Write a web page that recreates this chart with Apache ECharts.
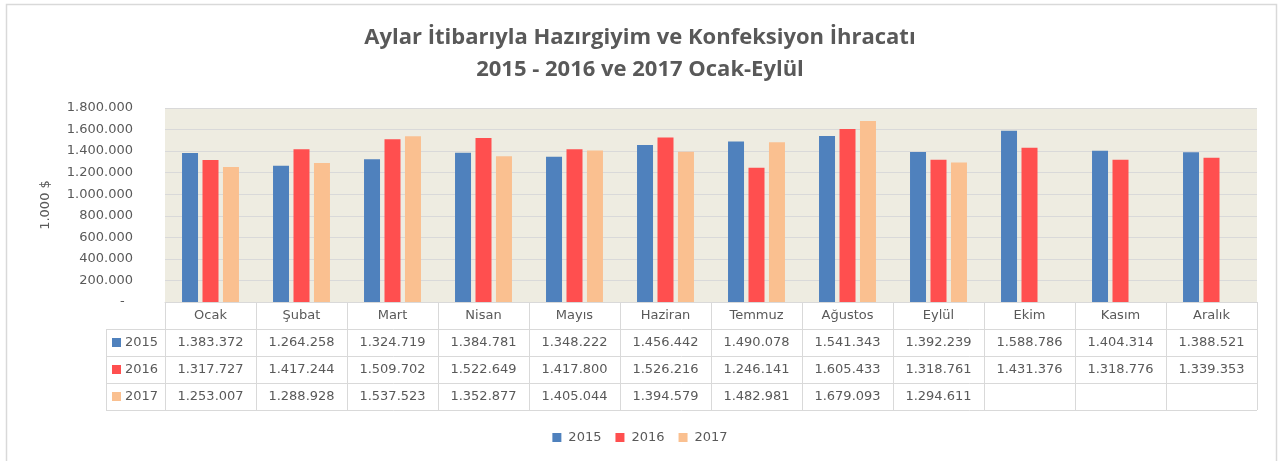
<!DOCTYPE html>
<html>
<head>
<meta charset="utf-8">
<script src="https://cdn.jsdelivr.net/npm/echarts@6/dist/echarts.min.js"></script>
<style>
  html, body { margin: 0; padding: 0; background: #fff; }
  #chart { width: 1280px; height: 461px; }
</style>
</head>
<body>
<div id="chart"></div>
<script>
  // aylar ve yillik ihracat degerleri (1.000 $)
  var months = ['Ocak', 'Şubat', 'Mart', 'Nisan', 'Mayıs', 'Haziran', 'Temmuz', 'Ağustos', 'Eylül', 'Ekim', 'Kasım', 'Aralık'];
  var years = ['2015', '2016', '2017'];
  var data2015 = [1383372, 1264258, 1324719, 1384781, 1348222, 1456442, 1490078, 1541343, 1392239, 1588786, 1404314, 1388521];
  var data2016 = [1317727, 1417244, 1509702, 1522649, 1417800, 1526216, 1246141, 1605433, 1318761, 1431376, 1318776, 1339353];
  var data2017 = [1253007, 1288928, 1537523, 1352877, 1405044, 1394579, 1482981, 1679093, 1294611, null, null, null];
  var yTicks = [0, 200000, 400000, 600000, 800000, 1000000, 1200000, 1400000, 1600000, 1800000];

  var colors = ['#4F81BD', '#FF4F4F', '#FAC090'];
  var textColor = '#595959';
  var lineColor = '#D9D9D9';
  var font = 'DejaVu Sans';

  // grafik alani ve tablo olculeri
  var gridLeft = 165, gridRight = 1257, gridTop = 108, gridBottom = 302;
  var rowH = 27, tableLeft = 106;

  function fmt(v) {
    if (v === null || v === undefined) return '';
    return String(v).replace(/\B(?=(\d{3})+(?!\d))/g, '.');
  }

  var allSeries = [data2015, data2016, data2017];

  var graphics = [];
  // tablo yatay cizgileri
  for (var r = 1; r <= 4; r++) {
    var y = gridBottom + r * rowH + 0.5;
    graphics.push({
      type: 'line', silent: true,
      shape: { x1: tableLeft, y1: y, x2: gridRight, y2: y },
      style: { stroke: lineColor, lineWidth: 1 }
    });
  }
  graphics.push({
    type: 'line', silent: true,
    shape: { x1: tableLeft + 0.5, y1: gridBottom + rowH, x2: tableLeft + 0.5, y2: gridBottom + 4 * rowH },
    style: { stroke: lineColor, lineWidth: 1 }
  });
  // sol sutun: renk kutusu + yil
  years.forEach(function (yr, i) {
    var cy = gridBottom + (i + 1) * rowH + rowH / 2;
    graphics.push({
      type: 'rect', silent: true,
      shape: { x: 112, y: cy - 4.5, width: 9, height: 9 },
      style: { fill: colors[i] }
    });
    graphics.push({
      type: 'text', silent: true,
      x: 125, y: cy,
      style: { text: yr, fill: textColor, font: '13px "' + font + '"', verticalAlign: 'middle' }
    });
  });

  var option = {
    animation: false,
    backgroundColor: '#ffffff',
    title: {
      text: 'Aylar İtibarıyla Hazırgiyim ve Konfeksiyon İhracatı\n2015 - 2016 ve 2017 Ocak-Eylül',
      left: 'center',
      top: 17,
      textStyle: {
        fontFamily: 'Open Sans',
        fontWeight: 'bold',
        fontSize: 22,
        lineHeight: 32,
        color: textColor
      }
    },
    legend: {
      data: years,
      bottom: 12,
      left: 'center',
      icon: 'rect',
      itemWidth: 9,
      itemHeight: 9,
      itemGap: 14,
      textStyle: { color: textColor, fontFamily: font, fontSize: 13, padding: [0, 0, 0, 2] }
    },
    grid: {
      left: gridLeft,
      right: 1280 - gridRight,
      top: gridTop,
      bottom: 461 - gridBottom,
      show: true,
      backgroundColor: '#EEECE1',
      borderWidth: 0,
      outerBoundsMode: 'none'
    },
    xAxis: {
      type: 'category',
      data: months,
      axisLine: { show: true, lineStyle: { color: lineColor } },
      axisTick: { show: true, interval: 0, length: rowH * 4, lineStyle: { color: lineColor } },
      axisLabel: {
        interval: 0,
        margin: 0,
        color: textColor,
        fontFamily: font,
        fontSize: 13,
        lineHeight: rowH,
        formatter: function (value, idx) {
          return [value, fmt(data2015[idx]), fmt(data2016[idx]), fmt(data2017[idx])].join('\n');
        }
      }
    },
    yAxis: {
      type: 'value',
      min: yTicks[0],
      max: yTicks[yTicks.length - 1],
      interval: 200000,
      name: '1.000 $',
      nameLocation: 'middle',
      nameGap: 113,
      nameRotate: 90,
      nameTextStyle: { color: textColor, fontFamily: font, fontSize: 13 },
      axisLine: { show: false },
      axisTick: { show: false },
      splitLine: { lineStyle: { color: lineColor } },
      axisLabel: {
        margin: 32,
        color: textColor,
        fontFamily: font,
        fontSize: 13,
        formatter: function (v) { return v === 0 ? '-  ' : fmt(v); }
      }
    },
    series: years.map(function (yr, i) {
      return {
        name: yr,
        type: 'bar',
        data: allSeries[i],
        barWidth: 16,
        barGap: '28%',
        itemStyle: { color: colors[i] }
      };
    }),
    graphic: graphics.concat([{
      type: 'rect', silent: true,
      shape: { x: 6.5, y: 4.5, width: 1270, height: 470 },
      style: { fill: null, stroke: lineColor, lineWidth: 1.5 }
    }])
  };

  var chart = echarts.init(document.getElementById('chart'), null, { renderer: 'canvas' });
  chart.setOption(option);
</script>
</body>
</html>
